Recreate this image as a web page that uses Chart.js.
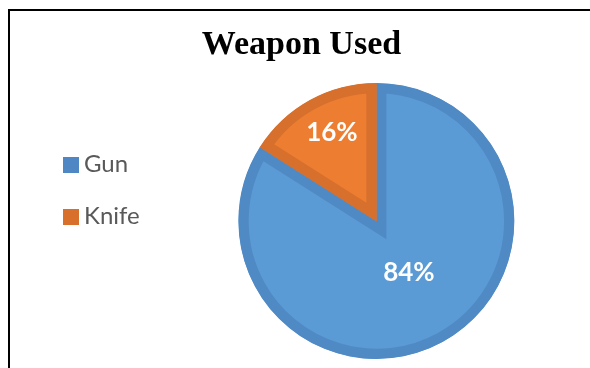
<!DOCTYPE html>
<html>
<head>
<meta charset="utf-8">
<title>Weapon Used</title>
<script src="https://cdn.jsdelivr.net/npm/chart.js@4"></script>
<style>
  html, body { margin: 0; padding: 0; background: #fff; width: 590px; height: 368px; overflow: hidden; }
  #frame { position: absolute; left: 8px; top: 9px; right: -20px; bottom: -20px;
           border-left: 2px solid #000; border-top: 2px solid #000; }
  #chart { position: absolute; left: 0; top: 0; }
</style>
</head>
<body>
<div id="frame"></div>
<canvas id="chart" width="603" height="368"></canvas>
<script>
// Share of incidents by weapon type (percent)
const categories = ['Gun', 'Knife'];
const shares = [84, 16];

const sliceFill   = ['#5B9BD5', '#ED7D31'];
const sliceBorder = ['#508AC5', '#D6702C'];
const keyColors   = ['#4F87C4', '#D86F2B'];

// Solid square used as the legend marker
function swatch(color) {
  const c = document.createElement('canvas');
  c.width = 16; c.height = 16;
  const g = c.getContext('2d');
  g.fillStyle = color;
  g.fillRect(0, 0, 16, 16);
  return c;
}

// Percentage text placed inside each slice
const sliceLabels = {
  id: 'sliceLabels',
  afterDatasetsDraw(chart, args, opts) {
    const ctx = chart.ctx;
    const meta = chart.getDatasetMeta(0);
    const values = chart.data.datasets[0].data;
    ctx.save();
    ctx.font = opts.font;
    ctx.fillStyle = opts.color;
    ctx.textAlign = 'center';
    ctx.textBaseline = 'middle';
    meta.data.forEach((arc, i) => {
      const p = arc.getProps(['x', 'y', 'startAngle', 'endAngle', 'outerRadius'], true);
      const a = (p.startAngle + p.endAngle) / 2 + opts.nudge[i] * Math.PI / 180;
      const r = p.outerRadius * opts.distance[i];
      ctx.fillText(values[i] + '%', p.x + Math.cos(a) * r, p.y + Math.sin(a) * r);
    });
    ctx.restore();
  }
};

new Chart(document.getElementById('chart'), {
  type: 'pie',
  data: {
    labels: categories,
    datasets: [{
      data: shares,
      backgroundColor: sliceFill,
      borderColor: sliceBorder,
      borderWidth: 10,
      borderAlign: 'inner',
      borderJoinStyle: 'miter',
      radius: 138,
      clip: false
    }]
  },
  options: {
    responsive: false,
    animation: false,
    events: [],
    layout: { padding: { left: 0, right: 0, top: 0, bottom: 50.5 } },
    plugins: {
      tooltip: { enabled: false },
      title: {
        display: true,
        text: 'Weapon Used',
        color: '#000',
        font: { family: '"Liberation Serif", "Times New Roman", serif', size: 34, weight: 'bold', lineHeight: 1.2 },
        padding: { top: 25.3, bottom: 58.4 }
      },
      subtitle: {
        // empty left gutter before the legend
        display: true,
        position: 'left',
        fullSize: false,
        text: '',
        font: { size: 12, lineHeight: 1 },
        padding: { top: 15, bottom: 15 }
      },
      legend: {
        position: 'left',
        align: 'start',
        fullSize: false,
        labels: {
          usePointStyle: true,
          pointStyleWidth: 2,
          padding: 28,
          color: '#595959',
          font: { family: 'Lato, "Open Sans", sans-serif', size: 24 },
          generateLabels: () => categories.map((text, i) => ({
            text,
            fillStyle: keyColors[i],
            strokeStyle: keyColors[i],
            lineWidth: 0,
            pointStyle: swatch(keyColors[i]),
            fontColor: '#595959',
            hidden: false,
            index: i
          }))
        }
      },
      sliceLabels: {
        font: 'bold 26px Lato, "Open Sans", sans-serif',
        color: '#fff',
        distance: [0.445, 0.72],
        nudge: [-3.2, 2.2]
      }
    }
  },
  plugins: [sliceLabels]
});
</script>
</body>
</html>
